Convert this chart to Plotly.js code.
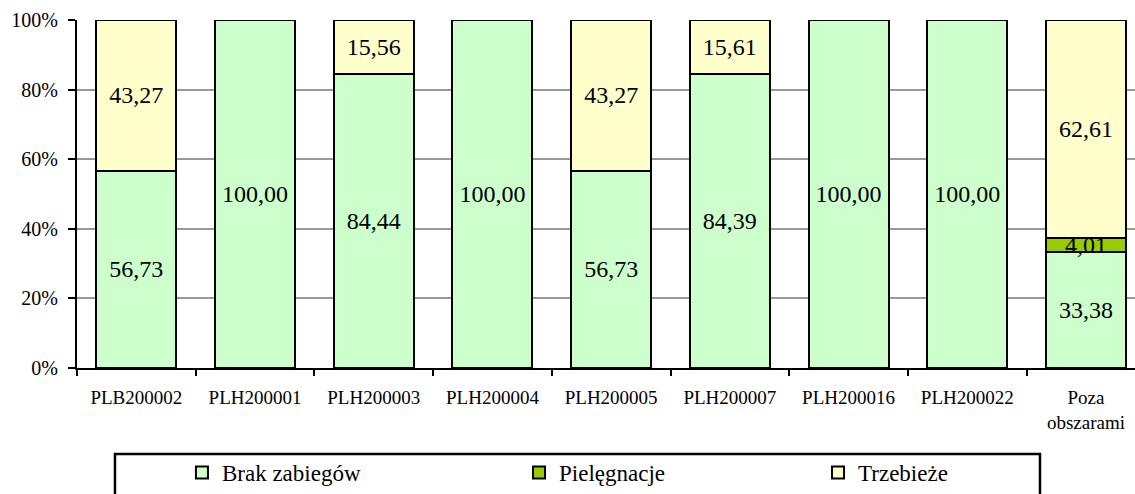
<!DOCTYPE html>
<html>
<head>
<meta charset="utf-8">
<script src="https://cdn.plot.ly/plotly-3.0.1.min.js"></script>
<style>
  html, body { margin: 0; padding: 0; background: #fff; }
  #chart { width: 1135px; height: 494px; }
</style>
</head>
<body>
<div id="chart"></div>
<script>
const categories = ["PLB200002", "PLH200001", "PLH200003", "PLH200004", "PLH200005", "PLH200007", "PLH200016", "PLH200022", "Poza<br>obszarami"];
const brakZabiegow = [56.73, 100.00, 84.44, 100.00, 56.73, 84.39, 100.00, 100.00, 33.38];
const pielegnacje  = [0, 0, 0, 0, 0, 0, 0, 0, 4.01];
const trzebieze    = [43.27, 0, 15.56, 0, 43.27, 15.61, 0, 0, 62.61];
const seriesNames = ["Brak zabiegów", "Pielęgnacje", "Trzebieże"];
const yTicks = [0, 20, 40, 60, 80, 100];

const FONT = 'Liberation Serif, Times New Roman, serif';
const fmt = v => v > 0 ? v.toFixed(2).replace('.', ',') : '';
const colors = ['#CCFFCC', '#99CC00', '#FFFFCC'];
const legendIds = ['legend', 'legend2', 'legend3'];

function makeTrace(vals, i) {
  return {
    type: 'bar',
    name: seriesNames[i],
    x: categories,
    y: vals.map(v => v > 0 ? v : null),
    text: vals.map(fmt),
    textposition: 'inside',
    insidetextanchor: 'middle',
    constraintext: 'none',
    textfont: { family: FONT, size: 24, color: '#000' },
    marker: { color: colors[i], line: { color: '#000', width: 2 } },
    width: 0.674,
    legend: legendIds[i],
    hoverinfo: 'x+y+name',
    cliponaxis: false
  };
}

const data = [makeTrace(brakZabiegow, 0), makeTrace(pielegnacje, 1), makeTrace(trzebieze, 2)];

const legendBase = (x) => ({
  orientation: 'h', x: x, xanchor: 'left', y: -0.302, yanchor: 'middle',
  xref: 'paper', yref: 'paper',
  font: { family: FONT, size: 23, color: '#000' },
  bgcolor: 'rgba(0,0,0,0)', borderwidth: 0, itemwidth: 30
});

const layout = {
  width: 1135, height: 494,
  margin: { l: 77, r: 0, t: 20, b: 126, pad: 0 },
  paper_bgcolor: '#fff', plot_bgcolor: '#fff',
  barmode: 'stack',
  font: { family: FONT, color: '#000' },
  xaxis: {
    type: 'category',
    range: [-0.5, 8.413],
    showline: true, linecolor: '#000', linewidth: 2,
    ticks: 'outside', tickson: 'boundaries', ticklen: 6, tickwidth: 2, tickcolor: '#000',
    ticklabelstandoff: 11,
    tickfont: { family: FONT, size: 19, color: '#000' },
    showgrid: false, zeroline: false, fixedrange: true
  },
  yaxis: {
    range: [0, 100],
    tickvals: yTicks,
    ticktext: yTicks.map(v => v + '%'),
    showline: true, linecolor: '#000', linewidth: 2,
    ticks: 'outside', ticklen: 7, tickwidth: 2, tickcolor: '#000',
    ticklabelstandoff: 6,
    tickfont: { family: FONT, size: 20, color: '#000' },
    showgrid: true, gridcolor: '#999', gridwidth: 2,
    zeroline: false, fixedrange: true
  },
  legend: legendBase(0.0992),
  legend2: legendBase(0.4178),
  legend3: legendBase(0.7004),
  shapes: [{
    type: 'rect', xref: 'paper', yref: 'paper',
    x0: 0.0359, x1: 0.9102, y0: -0.2471, y1: -0.6,
    line: { color: '#000', width: 2.5 }, fillcolor: 'rgba(0,0,0,0)', layer: 'below'
  }],
  showlegend: true
};

Plotly.newPlot('chart', data, layout, { displayModeBar: false, staticPlot: true });
</script>
</body>
</html>
